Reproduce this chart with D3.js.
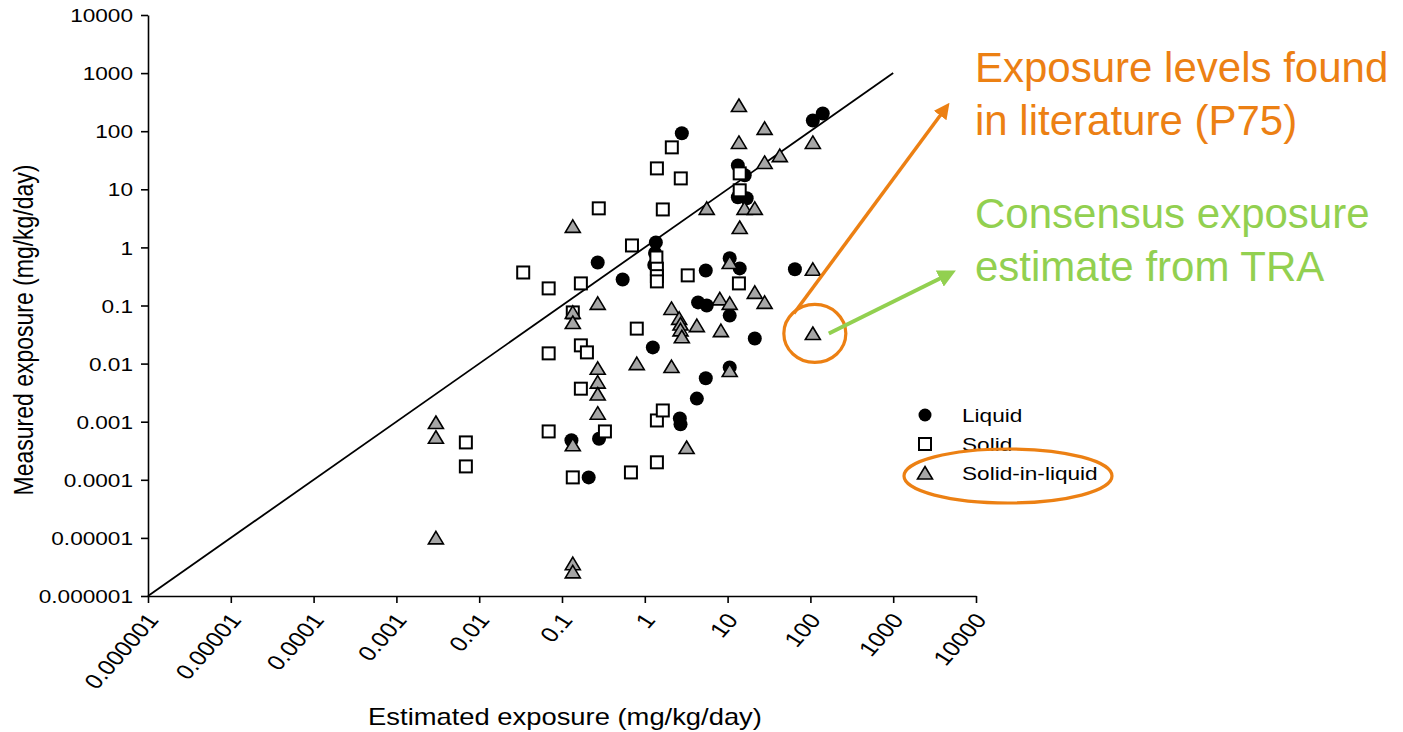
<!DOCTYPE html>
<html><head><meta charset="utf-8">
<script src="https://cdn.jsdelivr.net/npm/d3@7"></script>
<style>
body{margin:0;background:#fff;}
svg{display:block;font-family:Arial,"Liberation Sans",sans-serif;}
</style>
</head><body>
<svg id="c" width="1403" height="732"></svg>
<script>
// ---- data ----
const tickValues = [1e-6,1e-5,1e-4,1e-3,1e-2,1e-1,1,10,100,1000,10000];
const tickLabels = ["0.000001","0.00001","0.0001","0.001","0.01","0.1","1","10","100","1000","10000"];

const liquidX = [2.8,13.3,16.1,13.3,17,107,141,0.27,0.54,1.36,1.33,1.3,5.45,10.6,14,65,4.4,5.6,10.6,21.3,5.45,10.6,4.25,2.65,2.7,0.13,0.28,0.21,1.25];
const liquidY = [92,25.8,17.4,7.3,7.0,153,202,0.55,0.28,1.22,0.8,0.5,0.40,0.65,0.435,0.42,0.113,0.1,0.067,0.027,0.0056,0.0086,0.0025,0.00114,0.0009,0.00048,0.00051,0.00011,0.019];

const solidX = [0.0069,0.0069,2.12,1.4,2.72,0.278,1.65,0.70,0.034,0.069,0.169,1.38,1.4,1.4,1.4,0.135,0.80,0.069,0.169,0.2,0.169,3.3,13.7,14,14,0.069,0.33,1.4,1.65,0.135,0.68,1.4];
const solidY = [0.00044,0.00017,52.7,22.9,15.4,4.7,4.5,1.08,0.37,0.197,0.24,0.67,0.43,0.32,0.26,0.076,0.040,0.015,0.0206,0.0156,0.0037,0.33,0.24,18.8,9.6,0.00068,0.00068,0.00105,0.00156,0.00011,0.000134,0.0002];

const silX = [0.003,0.003,0.003,0.135,0.135,0.135,0.135,0.135,0.135,0.27,0.27,0.27,0.27,0.27,0.80,2.1,2.1,2.6,2.7,2.7,2.8,4.25,3.2,5.6,8.05,10.6,8.3,10.6,10.6,13.7,13.7,28,14,16,21.3,28,42.7,107,21.3,28,107,107];
const silY = [0.00097,0.00054,1e-5,2.3,0.076,0.051,0.0004,3.6e-6,2.6e-6,0.109,0.0083,0.0048,0.0030,0.0014,0.01,0.0089,0.089,0.06,0.048,0.038,0.029,0.045,0.00036,4.7,0.13,0.109,0.037,0.0076,0.55,277,64,112,2.2,4.7,4.7,29,38,64,0.168,0.113,0.42,0.033];

const lineX = [1e-6, 1000];
const lineY = [1e-6, 1000];

const legendNames = ["Liquid","Solid","Solid-in-liquid"];
const noteOrange = ["Exposure levels found","in literature (P75)"];
const noteGreen = ["Consensus exposure","estimate from TRA"];
const highlightX = 107, highlightY = 0.033;

// ---- drawing ----
const SX = 1.19;
const ORANGE = "#EC8013", GREEN = "#92D050", TRI = "#A6A6A6";
const svg = d3.select("#c");
const x = d3.scaleLog().domain([1e-6,1e4]).range([148,976]);
const y = d3.scaleLog().domain([1e-6,1e4]).range([596,15]);

// x axis
const gx = svg.append("g").attr("transform","translate(0,596)")
  .call(d3.axisBottom(x).tickValues(tickValues).tickFormat((d,i)=>tickLabels[i]).tickSize(7).tickSizeOuter(0));
gx.select(".domain").attr("stroke","#000").attr("stroke-width",1.6);
gx.selectAll(".tick line").attr("stroke","#000").attr("stroke-width",1.6);
gx.selectAll(".tick text").attr("x",null).attr("y",null).attr("dy","0.35em")
  .attr("text-anchor","end").attr("font-size",21).attr("fill","#000").attr("font-family","Arial, 'Liberation Sans', sans-serif")
  .attr("transform","translate(4,20) scale(" + SX + ",1) rotate(-53)");

// y axis
const gy = svg.append("g").attr("transform","translate(148,0)")
  .call(d3.axisLeft(y).tickValues(tickValues).tickFormat((d,i)=>tickLabels[i]).tickSize(7).tickSizeOuter(0));
gy.select(".domain").attr("stroke","#000").attr("stroke-width",1.6);
gy.selectAll(".tick line").attr("stroke","#000").attr("stroke-width",1.6);
gy.selectAll(".tick text").attr("x",0).attr("dy","0.35em").attr("text-anchor","end")
  .attr("font-size",19).attr("fill","#000").attr("font-family","Arial, 'Liberation Sans', sans-serif")
  .attr("transform","translate(-15,0) scale(" + SX + ",1)");

// axis titles
svg.append("text").attr("transform","translate(565,725) scale(" + SX + ",1)")
  .attr("text-anchor","middle").attr("font-size",23).text("Estimated exposure (mg/kg/day)");
svg.append("text").attr("transform","translate(33,330) scale(" + SX + ",1) rotate(-90)")
  .attr("text-anchor","middle").attr("font-size",23).text("Measured exposure (mg/kg/day)");

// 1:1 line
svg.append("line")
  .attr("x1",x(lineX[0])).attr("y1",y(lineY[0])).attr("x2",x(lineX[1])).attr("y2",y(lineY[1]))
  .attr("stroke","#000").attr("stroke-width",1.8);

const triPath = "M0,-6.5L7.5,6L-7.5,6Z";

// liquid circles
svg.append("g").selectAll("circle").data(liquidX).join("circle")
  .attr("cx",(d)=>x(d)).attr("cy",(d,i)=>y(liquidY[i])).attr("r",7).attr("fill","#000");
// solid squares
svg.append("g").selectAll("rect").data(solidX).join("rect")
  .attr("x",(d)=>x(d)-6).attr("y",(d,i)=>y(solidY[i])-6).attr("width",12).attr("height",12)
  .attr("fill","#fff").attr("stroke","#000").attr("stroke-width",2);
// solid-in-liquid triangles
svg.append("g").selectAll("path").data(silX).join("path")
  .attr("d",triPath).attr("transform",(d,i)=>`translate(${x(d)},${y(silY[i])})`)
  .attr("fill",TRI).attr("stroke","#000").attr("stroke-width",1.6).attr("stroke-linejoin","miter");

// legend
const lg = svg.append("g");
const lx = 925, ly0 = 415, ldy = 29;
lg.append("circle").attr("cx",lx).attr("cy",ly0).attr("r",6.5).attr("fill","#000");
lg.append("rect").attr("x",lx-6).attr("y",ly0+ldy-6).attr("width",12).attr("height",12)
  .attr("fill","#fff").attr("stroke","#000").attr("stroke-width",2);
lg.append("path").attr("d",triPath).attr("transform",`translate(${lx},${ly0+2*ldy})`)
  .attr("fill",TRI).attr("stroke","#000").attr("stroke-width",1.6);
legendNames.forEach((n,i)=>{
  lg.append("text").attr("transform",`translate(962,${ly0+i*ldy}) scale(${SX},1)`)
    .attr("dy","0.35em").attr("font-size",19).text(n);
});

// annotations
const defs = svg.append("defs");
function marker(id,color){
  defs.append("marker").attr("id",id).attr("viewBox","0 0 10 10").attr("refX",2).attr("refY",5)
    .attr("markerWidth",4.5).attr("markerHeight",4.5).attr("orient","auto")
    .append("path").attr("d","M0,0L10,5L0,10Z").attr("fill",color);
}
marker("mo",ORANGE); marker("mg",GREEN);

const hx = x(highlightX)+2, hy = y(highlightY);
svg.append("ellipse").attr("cx",hx).attr("cy",hy).attr("rx",31).attr("ry",29)
  .attr("fill","none").attr("stroke",ORANGE).attr("stroke-width",3.2);
svg.append("line").attr("x1",hx-21).attr("y1",hy-20).attr("x2",942).attr("y2",113)
  .attr("stroke",ORANGE).attr("stroke-width",3.5).attr("marker-end","url(#mo)");
svg.append("line").attr("x1",hx+14).attr("y1",hy).attr("x2",943).attr("y2",277)
  .attr("stroke",GREEN).attr("stroke-width",4).attr("marker-end","url(#mg)");

svg.append("ellipse").attr("cx",1008).attr("cy",476).attr("rx",104).attr("ry",27)
  .attr("fill","none").attr("stroke",ORANGE).attr("stroke-width",3.2);

noteOrange.forEach((t,i)=>{
  svg.append("text").attr("x",975).attr("y",82+i*53).attr("font-size",42).attr("fill",ORANGE).text(t);
});
noteGreen.forEach((t,i)=>{
  svg.append("text").attr("x",975).attr("y",228+i*53).attr("font-size",42).attr("fill",GREEN).text(t);
});
</script>
</body></html>
